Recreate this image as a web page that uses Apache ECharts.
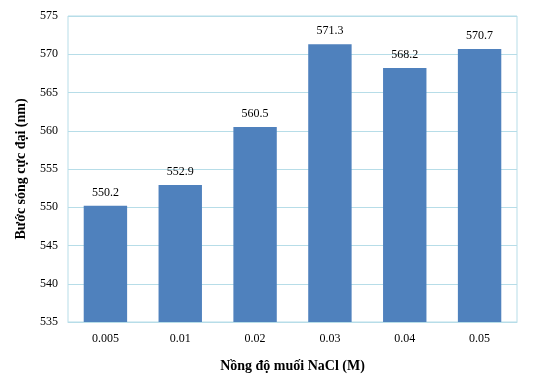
<!DOCTYPE html>
<html>
<head>
<meta charset="utf-8">
<script src="https://cdn.jsdelivr.net/npm/echarts@6/dist/echarts.min.js"></script>
<style>
  html, body { margin: 0; padding: 0; background: #fff; }
  #chart { width: 539px; height: 376px; }
</style>
</head>
<body>
<div id="chart"></div>
<script>
// dữ liệu
const categories = ['0.005', '0.01', '0.02', '0.03', '0.04', '0.05'];
const peakValues = [550.2, 552.9, 560.5, 571.3, 568.2, 570.7];

const font = '"Liberation Serif", "Times New Roman", serif';
const lineColor = '#B7DDE8';

const myChart = echarts.init(document.getElementById('chart'));
const option = {
  animation: false,
  grid: {
    left: 68,
    right: 22,
    top: 16,
    bottom: 54,
    outerBoundsMode: 'none',
    show: true,
    borderColor: lineColor,
    borderWidth: 1
  },
  xAxis: {
    type: 'category',
    data: categories,
    name: 'Nồng độ muối NaCl (M)',
    nameLocation: 'middle',
    nameGap: 37,
    nameTextStyle: { fontFamily: font, fontSize: 14, fontWeight: 'bold', color: '#000' },
    axisLine: { lineStyle: { color: lineColor } },
    axisTick: { show: false },
    axisLabel: { fontFamily: font, fontSize: 12, color: '#000', margin: 11 }
  },
  yAxis: {
    type: 'value',
    min: 535,
    max: 575,
    interval: 5,
    name: 'Bước sóng cực đại (nm)',
    nameLocation: 'middle',
    nameGap: 40,
    nameTextStyle: { fontFamily: font, fontSize: 14, fontWeight: 'bold', color: '#000' },
    axisLine: { show: false },
    axisTick: { show: false },
    axisLabel: { fontFamily: font, fontSize: 12, color: '#000', margin: 10 },
    splitLine: { lineStyle: { color: lineColor } }
  },
  series: [
    {
      type: 'bar',
      data: peakValues,
      barWidth: '58%',
      itemStyle: { color: '#4F81BD' },
      label: {
        show: true,
        position: 'top',
        distance: 7,
        fontFamily: font,
        fontSize: 12,
        color: '#000'
      }
    }
  ]
};
myChart.setOption(option);
</script>
</body>
</html>
